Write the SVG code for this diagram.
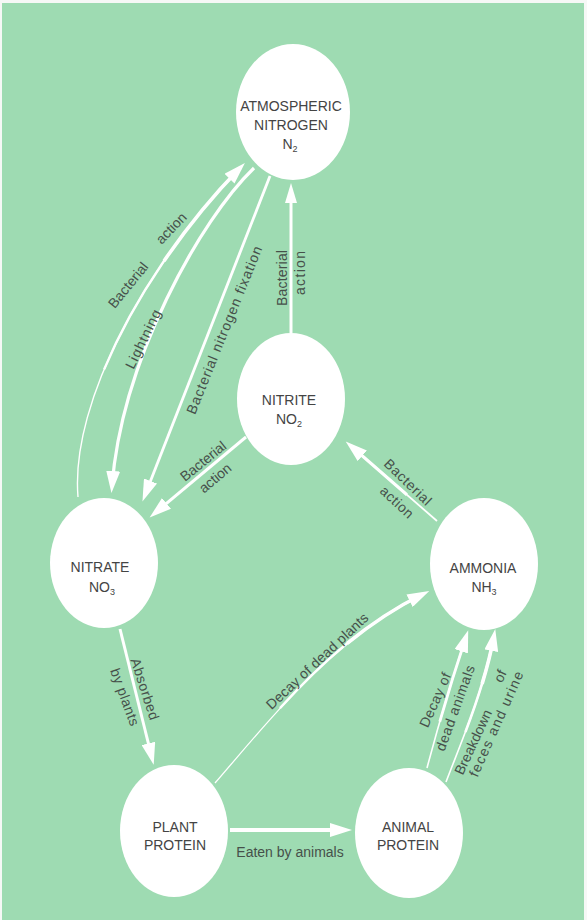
<svg xmlns="http://www.w3.org/2000/svg" width="587" height="920" viewBox="0 0 587 920">
<style>
.node{fill:#ffffff}
.nt{font-family:"Liberation Sans",Arial,sans-serif;font-size:14px;fill:#444444;text-anchor:middle}
.sub{font-size:9px}
.lb{font-family:"Liberation Sans",Arial,sans-serif;font-size:14px;fill:#46504a;text-anchor:middle}
.c{fill:none;stroke:#ffffff;stroke-linecap:butt}
.t2{stroke-dasharray:0 35 65}
.t3{stroke-dasharray:0 68 32}
</style>
<defs>
<marker id="big" markerUnits="userSpaceOnUse" markerWidth="24" markerHeight="14" refX="15" refY="7" orient="auto" viewBox="0 0 24 14">
<path d="M0,0 L22,7 L0,14 z" fill="#ffffff"/>
</marker>
<marker id="med" markerUnits="userSpaceOnUse" markerWidth="22" markerHeight="12" refX="13" refY="6" orient="auto" viewBox="0 0 22 12">
<path d="M0,0 L20,6 L0,12 z" fill="#ffffff"/>
</marker>
</defs>
<rect x="0" y="0" width="587" height="920" fill="#f6f8f6"/>
<rect x="2" y="3" width="582" height="917" fill="#9edbb2"/>

<g id="connectors">
<path class="c" d="M 78 497 C 70 400, 150 260, 240 168" pathLength="100" stroke-width="1.4" marker-end="url(#big)"/>
<path class="c t2" d="M 78 497 C 70 400, 150 260, 240 168" pathLength="100" stroke-width="2.4"/>
<path class="c t3" d="M 78 497 C 70 400, 150 260, 240 168" pathLength="100" stroke-width="3.6"/>
<path class="c" d="M 254 168 C 200 220, 122 360, 112 486" stroke-width="3.2" marker-end="url(#big)"/>
<path class="c" d="M 270 176 Q 210 330 145 495" stroke-width="2.8" marker-end="url(#big)"/>
<path class="c" d="M 291 333 L 291 190" stroke-width="3" marker-end="url(#med)"/>
<path class="c" d="M 246 437 L 155 513" stroke-width="3" marker-end="url(#big)"/>
<path class="c" d="M 437 521 L 351 446" pathLength="100" stroke-width="1.8" marker-end="url(#big)"/>
<path class="c t2" d="M 437 521 L 351 446" pathLength="100" stroke-width="3"/>
<path class="c" d="M 120 629 L 152 758" stroke-width="3" marker-end="url(#big)"/>
<path class="c" d="M 215 783 C 270 720, 330 640, 423 594" pathLength="100" stroke-width="1.3" marker-end="url(#big)"/>
<path class="c t2" d="M 215 783 C 270 720, 330 640, 423 594" pathLength="100" stroke-width="2.4"/>
<path class="c t3" d="M 215 783 C 270 720, 330 640, 423 594" pathLength="100" stroke-width="3.6"/>
<path class="c" d="M 427 768 Q 445 700 466 637" pathLength="100" stroke-width="1.6" marker-end="url(#big)"/>
<path class="c t2" d="M 427 768 Q 445 700 466 637" pathLength="100" stroke-width="2.8"/>
<path class="c" d="M 446 782 C 462 740, 484 690, 494 636" pathLength="100" stroke-width="1.6" marker-end="url(#big)"/>
<path class="c t2" d="M 446 782 C 462 740, 484 690, 494 636" pathLength="100" stroke-width="2.6"/>
<path class="c t3" d="M 446 782 C 462 740, 484 690, 494 636" pathLength="100" stroke-width="3.6"/>
<path class="c" d="M 230 830 L 345 830" stroke-width="4" marker-end="url(#big)"/>
</g>

<g id="atmospheric-nitrogen">
<ellipse class="node" cx="293" cy="112" rx="57" ry="68"/>
<text class="nt" x="291" y="111">ATMOSPHERIC</text>
<text class="nt" x="291" y="130">NITROGEN</text>
<text class="nt" x="290" y="149">N<tspan class="sub" dy="3">2</tspan></text>
</g>

<g id="nitrite">
<ellipse class="node" cx="291" cy="399" rx="54" ry="66"/>
<text class="nt" x="289" y="405">NITRITE</text>
<text class="nt" x="289" y="424">NO<tspan class="sub" dy="3">2</tspan></text>
</g>

<g id="nitrate">
<ellipse class="node" cx="104" cy="563" rx="54" ry="65"/>
<text class="nt" x="100" y="572">NITRATE</text>
<text class="nt" x="102" y="592">NO<tspan class="sub" dy="3">3</tspan></text>
</g>

<g id="ammonia">
<ellipse class="node" cx="484" cy="564" rx="54" ry="66"/>
<text class="nt" x="483" y="573">AMMONIA</text>
<text class="nt" x="484" y="592">NH<tspan class="sub" dy="3">3</tspan></text>
</g>

<g id="plant-protein">
<ellipse class="node" cx="174" cy="831" rx="54" ry="66"/>
<text class="nt" x="175" y="832">PLANT</text>
<text class="nt" x="175" y="850">PROTEIN</text>
</g>

<g id="animal-protein">
<ellipse class="node" cx="409" cy="833" rx="54" ry="65"/>
<text class="nt" x="408" y="832">ANIMAL</text>
<text class="nt" x="408" y="850">PROTEIN</text>
</g>

<g id="labels">
<text class="lb" transform="translate(128,285) rotate(-51)" x="0" y="5">Bacterial</text>
<text class="lb" transform="translate(171,228) rotate(-46)" x="0" y="5">action</text>
<text class="lb" transform="translate(143,339) rotate(-64)" x="0" y="5" textLength="64" lengthAdjust="spacing">Lightning</text>
<text class="lb" transform="translate(224,330) rotate(-68)" x="0" y="5" textLength="180" lengthAdjust="spacing">Bacterial nitrogen fixation</text>
<text class="lb" transform="translate(287,278) rotate(-90)" x="0" y="0" textLength="56" lengthAdjust="spacing">Bacterial</text>
<text class="lb" transform="translate(305,273) rotate(-90)" x="0" y="0" textLength="44" lengthAdjust="spacing">action</text>
<text class="lb" transform="translate(203,461) rotate(-39)" x="0" y="5">Bacterial</text>
<text class="lb" transform="translate(215,478) rotate(-40)" x="0" y="5">action</text>
<text class="lb" transform="translate(408,482) rotate(44)" x="0" y="5" textLength="60" lengthAdjust="spacing">Bacterial</text>
<text class="lb" transform="translate(397,502) rotate(43)" x="0" y="5" textLength="40" lengthAdjust="spacing">action</text>
<text class="lb" transform="translate(145,689) rotate(72)" x="0" y="5" textLength="64" lengthAdjust="spacing">Absorbed</text>
<text class="lb" transform="translate(125,697) rotate(70)" x="0" y="5" textLength="60" lengthAdjust="spacing">by plants</text>
<text class="lb" transform="translate(317,661) rotate(-43)" x="0" y="5" textLength="134" lengthAdjust="spacing">Decay of dead plants</text>
<text class="lb" transform="translate(435,700) rotate(-66)" x="0" y="5" textLength="58" lengthAdjust="spacing">Decay of</text>
<text class="lb" transform="translate(455,708) rotate(-70)" x="0" y="5" textLength="90" lengthAdjust="spacing">dead animals</text>
<text class="lb" transform="translate(473,742) rotate(-65)" x="0" y="5">Breakdown</text>
<text class="lb" transform="translate(500,676) rotate(-65)" x="0" y="5">of</text>
<text class="lb" transform="translate(496,724) rotate(-66)" x="0" y="5" textLength="114" lengthAdjust="spacing">feces and urine</text>
<text class="lb" x="290" y="857">Eaten by animals</text>
</g>
</svg>
